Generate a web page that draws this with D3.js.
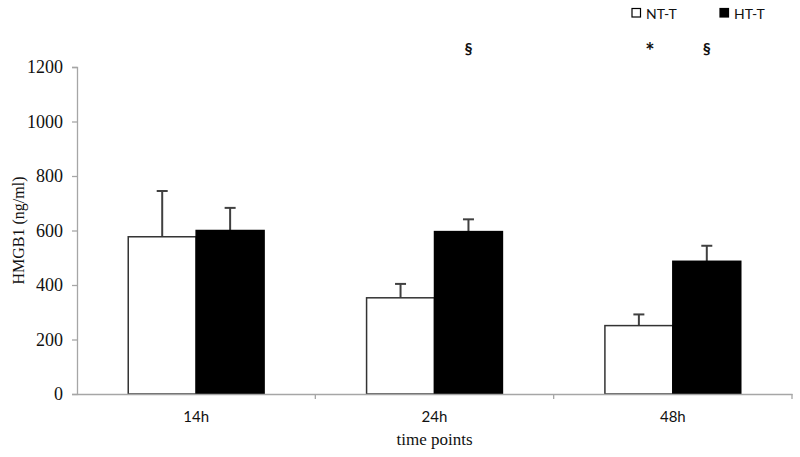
<!DOCTYPE html>
<html>
<head>
<meta charset="utf-8">
<script src="https://cdn.jsdelivr.net/npm/d3@7"></script>
<style>
  html, body { margin: 0; padding: 0; background: #fff; }
  svg { display: block; }
</style>
</head>
<body>
<svg id="chart" width="800" height="457"></svg>
<script>
// ---- data ----
const categories = ["14h", "24h", "48h"];
const seriesNames = ["NT-T", "HT-T"];
const ntValues = [577, 353, 251];
const ntErrors = [168, 51, 41];
const htValues = [600, 596, 487];
const htErrors = [83, 45, 57];
const yTicks = [0, 200, 400, 600, 800, 1000, 1200];
const significance = [
  { cat: "24h", series: "HT-T", mark: "§" },
  { cat: "48h", series: "NT-T", mark: "*" },
  { cat: "48h", series: "HT-T", mark: "§" }
];

(function () {
const svg = d3.select("#chart");
const mLeft = 77, mRight = 792, mTop = 67, mBottom = 394;

const x = d3.scaleBand().domain(categories).range([mLeft, mRight]).padding(0);
const bw = x.bandwidth();
const xInner = d3.scaleBand().domain(seriesNames).range([bw * 0.215, bw * 0.785]).padding(0);
const y = d3.scaleLinear().domain([0, 1200]).range([mBottom, mTop]);

const rows = [];
categories.forEach((c, i) => {
  rows.push({ cat: c, series: "NT-T", v: ntValues[i], e: ntErrors[i] });
  rows.push({ cat: c, series: "HT-T", v: htValues[i], e: htErrors[i] });
});

const axisColor = "#a6a6a6";

// y axis
const yAxis = svg.append("g")
  .attr("transform", `translate(${mLeft},0)`)
  .call(d3.axisLeft(y).tickValues(yTicks).tickSize(5).tickPadding(9).tickFormat(d3.format("d")));
yAxis.attr("font-family", null).attr("font-size", null);
yAxis.select(".domain").attr("stroke", axisColor).attr("stroke-width", 1.3);
yAxis.selectAll(".tick line").attr("stroke", axisColor).attr("stroke-width", 1.3);
yAxis.selectAll(".tick text")
  .style("font-family", "'Liberation Serif', 'Times New Roman', serif")
  .style("font-size", "18px").attr("fill", "#111");

// error bars
const eb = svg.append("g");
rows.forEach(r => {
  const cx = x(r.cat) + xInner(r.series) + xInner.bandwidth() / 2;
  eb.append("line")
    .attr("x1", cx).attr("x2", cx)
    .attr("y1", y(r.v)).attr("y2", y(r.v + r.e))
    .attr("stroke", "#404040").attr("stroke-width", 2);
  eb.append("line")
    .attr("x1", cx - 5.5).attr("x2", cx + 5.5)
    .attr("y1", y(r.v + r.e)).attr("y2", y(r.v + r.e))
    .attr("stroke", "#404040").attr("stroke-width", 2);
});

// bars
svg.append("g").selectAll("rect").data(rows).join("rect")
  .attr("x", d => x(d.cat) + xInner(d.series))
  .attr("y", d => y(d.v))
  .attr("width", xInner.bandwidth())
  .attr("height", d => mBottom - y(d.v))
  .attr("fill", d => d.series === "NT-T" ? "#ffffff" : "#000000")
  .attr("stroke", d => d.series === "NT-T" ? "#333333" : "#000000")
  .attr("stroke-width", 1.5);

// x axis
const xAxis = svg.append("g")
  .attr("transform", `translate(0,${mBottom})`)
  .call(d3.axisBottom(x).tickSize(0).tickPadding(17));
xAxis.attr("font-family", null).attr("font-size", null);
xAxis.select(".domain").attr("stroke", axisColor).attr("stroke-width", 1.3);
xAxis.selectAll(".tick text")
  .style("font-family", "Lato, 'Open Sans', sans-serif")
  .style("font-size", "15px").attr("fill", "#111");
const bounds = categories.map(c => x(c) + bw);
xAxis.append("g").selectAll("line").data(bounds).join("line")
  .attr("x1", d => d).attr("x2", d => d)
  .attr("y1", 0).attr("y2", 5)
  .attr("stroke", axisColor).attr("stroke-width", 1.3);

// axis titles
svg.append("text")
  .attr("x", (mLeft + mRight) / 2).attr("y", 445)
  .attr("text-anchor", "middle")
  .style("font-family", "'Liberation Serif', 'Times New Roman', serif")
  .style("font-size", "17px").attr("fill", "#111")
  .text("time points");

svg.append("text")
  .attr("transform", `translate(24,${(mTop + mBottom) / 2}) rotate(-90)`)
  .attr("text-anchor", "middle")
  .style("font-family", "'Liberation Serif', 'Times New Roman', serif")
  .style("font-size", "16px").attr("fill", "#111")
  .text("HMGB1 (ng/ml)");

// significance marks
svg.append("g").selectAll("text").data(significance).join("text")
  .attr("x", d => x(d.cat) + xInner(d.series) + xInner.bandwidth() / 2)
  .attr("dx", d => d.mark === "*" ? 11 : 0)
  .attr("y", d => d.mark === "*" ? 59 : 54)
  .attr("text-anchor", "middle")
  .style("font-family", "Lato, 'Open Sans', sans-serif")
  .style("font-size", d => d.mark === "*" ? "22px" : "16px")
  .attr("font-weight", "bold")
  .attr("fill", "#111")
  .text(d => d.mark);

// legend
const legend = svg.append("g");
const legendItems = [
  { name: seriesNames[0], fill: "#fff", x: 632 },
  { name: seriesNames[1], fill: "#000", x: 720 }
];
legendItems.forEach(it => {
  legend.append("rect")
    .attr("x", it.x).attr("y", 8.5).attr("width", 8.5).attr("height", 8.5)
    .attr("fill", it.fill).attr("stroke", "#000").attr("stroke-width", 1.2);
  legend.append("text")
    .attr("x", it.x + 14).attr("y", 19)
    .style("font-family", "Lato, 'Open Sans', sans-serif")
    .style("font-size", "14px").attr("fill", "#111")
    .text(it.name);
});
})();
</script>
</body>
</html>
